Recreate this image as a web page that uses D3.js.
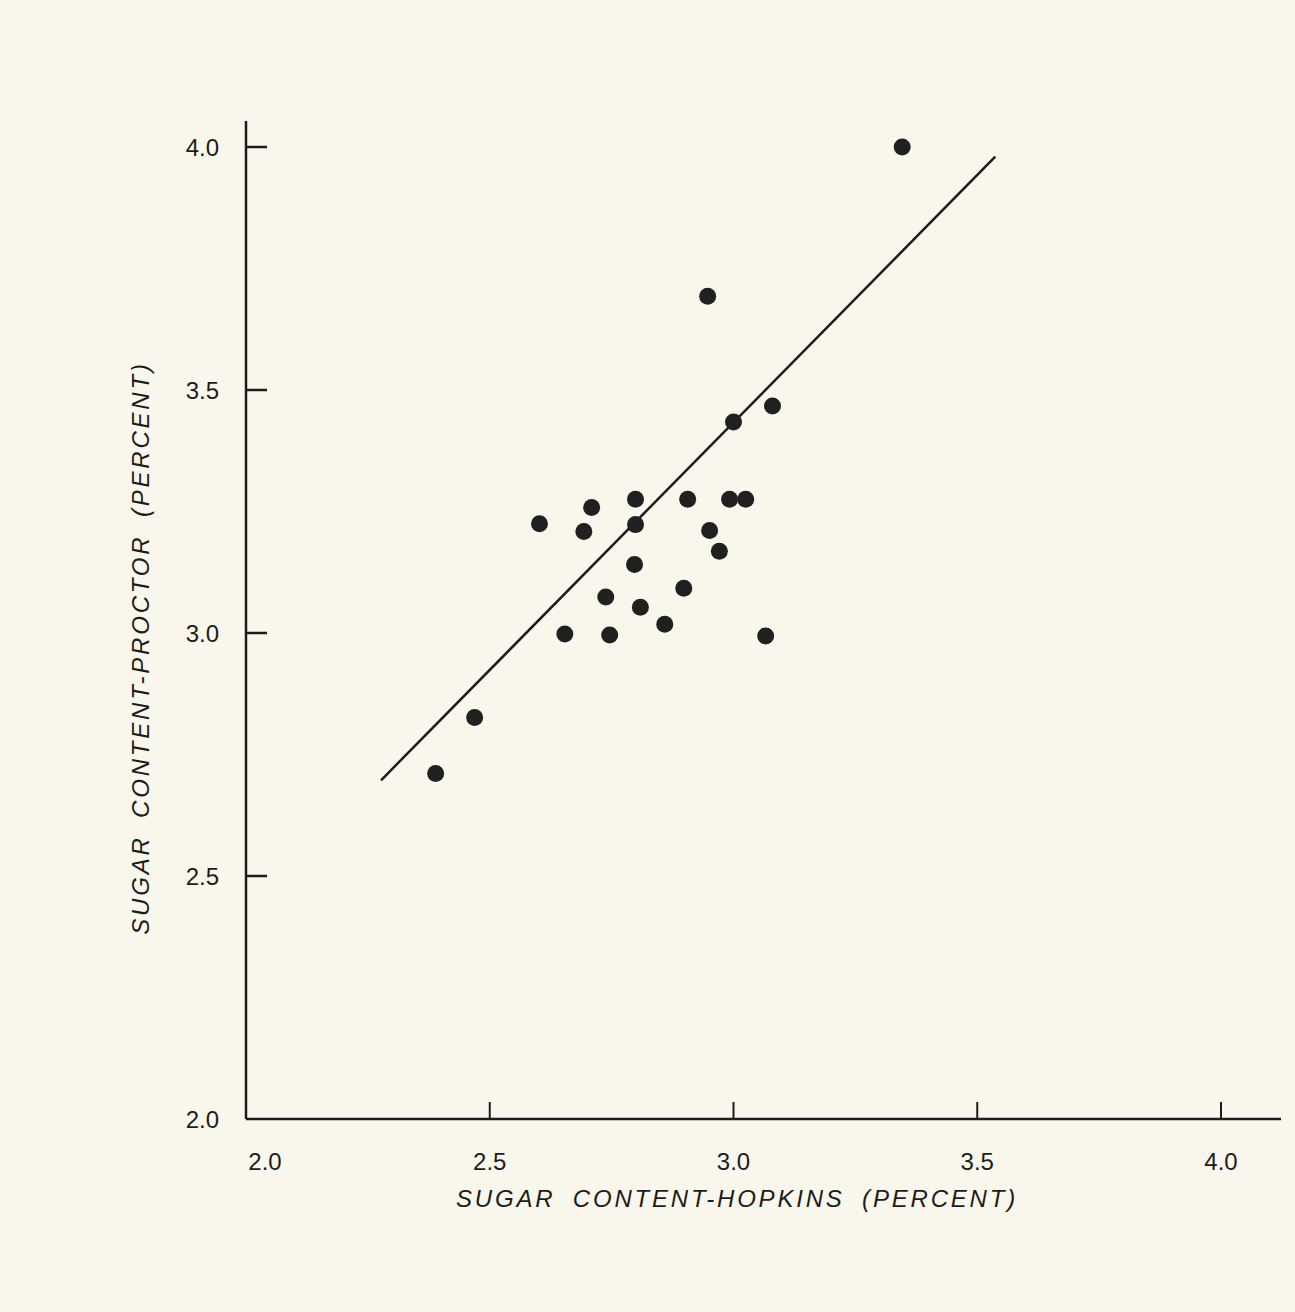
<!DOCTYPE html>
<html>
<head>
<meta charset="utf-8">
<script src="https://cdn.jsdelivr.net/npm/d3@7"></script>
<style>
  html, body { margin: 0; padding: 0; background: #f9f7eb; }
  svg { display: block; }
  text { font-family: "Liberation Sans", Arial, Helvetica, sans-serif; fill: #1c1c1c; }
</style>
</head>
<body>
<script>
// Data
const hopkins = [3.346, 2.947, 3.080, 3.000, 2.602, 2.693, 2.709, 2.799, 2.799, 2.906, 2.992, 3.025,
                 2.951, 2.971, 2.797, 2.738, 2.809, 2.898, 2.859, 2.654, 2.746, 3.066, 2.469, 2.389];
const proctor = [4.000, 3.693, 3.467, 3.434, 3.225, 3.209, 3.258, 3.275, 3.223, 3.275, 3.275, 3.275,
                 3.211, 3.168, 3.141, 3.074, 3.053, 3.092, 3.018, 2.998, 2.996, 2.994, 2.826, 2.711];
const fitLineX = [2.277, 3.537];
const fitLineY = [2.697, 3.980];
const xTicks = [2.0, 2.5, 3.0, 3.5, 4.0];
const yTicks = [2.0, 2.5, 3.0, 3.5, 4.0];
const xTitle = "SUGAR CONTENT-HOPKINS (PERCENT)";
const yTitle = "SUGAR CONTENT-PROCTOR (PERCENT)";

const W = 1295, H = 1312;
const svg = d3.select("body").append("svg").attr("width", W).attr("height", H);
svg.append("rect").attr("width", W).attr("height", H).attr("fill", "#f9f7eb");

const x = d3.scaleLinear().domain([2, 4]).range([246, 1221]);
const y = d3.scaleLinear().domain([2, 4]).range([1119, 147]);
const ink = "#1c1c1c";

// axis lines
svg.append("line").attr("x1", x(2)).attr("x2", 1281).attr("y1", y(2)).attr("y2", y(2))
  .attr("stroke", ink).attr("stroke-width", 2.5);
svg.append("line").attr("x1", x(2)).attr("x2", x(2)).attr("y1", 121).attr("y2", y(2))
  .attr("stroke", ink).attr("stroke-width", 2.5);

// x ticks (upward) & labels
const xg = svg.append("g");
xg.selectAll("line").data(xTicks.filter(d => d > 2)).join("line")
  .attr("x1", d => x(d)).attr("x2", d => x(d))
  .attr("y1", y(2)).attr("y2", y(2) - 17)
  .attr("stroke", ink).attr("stroke-width", 2);
xg.selectAll("text").data(xTicks).join("text")
  .attr("x", d => x(d) + (d === 2 ? 19 : 0)).attr("y", 1170)
  .attr("text-anchor", "middle").attr("font-size", 24)
  .text(d => d3.format(".1f")(d));

// y ticks (rightward) & labels
const yg = svg.append("g");
yg.selectAll("line").data(yTicks.filter(d => d > 2)).join("line")
  .attr("x1", x(2)).attr("x2", x(2) + 21)
  .attr("y1", d => y(d)).attr("y2", d => y(d))
  .attr("stroke", ink).attr("stroke-width", 2.5);
yg.selectAll("text").data(yTicks).join("text")
  .attr("x", 219).attr("y", d => y(d) + 9)
  .attr("text-anchor", "end").attr("font-size", 24)
  .text(d => d3.format(".1f")(d));

// titles
svg.append("text").attr("x", 737).attr("y", 1207)
  .attr("text-anchor", "middle").attr("font-size", 24).attr("font-style", "italic")
  .attr("letter-spacing", 2.8).attr("word-spacing", 8)
  .text(xTitle);
svg.append("text").attr("transform", "translate(149,648) rotate(-90)")
  .attr("text-anchor", "middle").attr("font-size", 24).attr("font-style", "italic")
  .attr("letter-spacing", 2.8).attr("word-spacing", 8)
  .text(yTitle);

// regression line
svg.append("line")
  .attr("x1", x(fitLineX[0])).attr("y1", y(fitLineY[0]))
  .attr("x2", x(fitLineX[1])).attr("y2", y(fitLineY[1]))
  .attr("stroke", ink).attr("stroke-width", 2.5);

// points
svg.append("g").selectAll("circle").data(hopkins.map((h, i) => [h, proctor[i]])).join("circle")
  .attr("cx", d => x(d[0])).attr("cy", d => y(d[1])).attr("r", 8.5)
  .attr("fill", "#202020");
</script>
</body>
</html>
